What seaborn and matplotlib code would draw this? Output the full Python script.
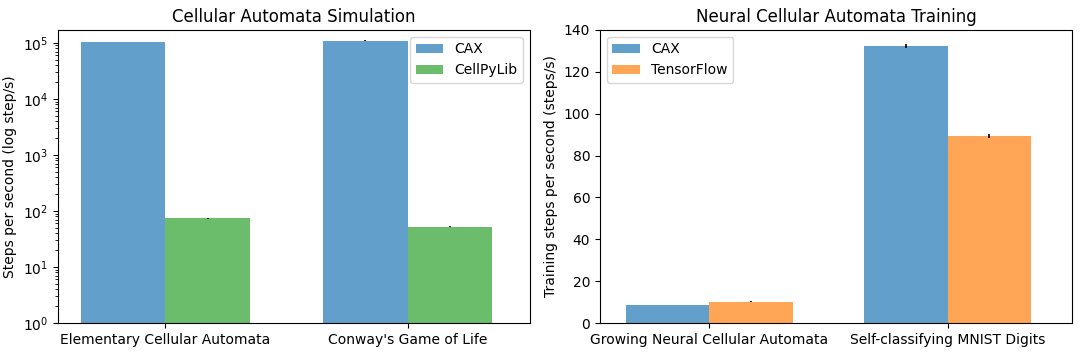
import pandas as pd
import seaborn as sns
import matplotlib
matplotlib.use("Agg")
import matplotlib.pyplot as plt

# classic CA simulation benchmark
sim_tasks = ["Elementary Cellular Automata", "Conway's Game of Life"]
sim_libs = ["CAX", "CellPyLib"]
sim_cax = [104000, 110000]
sim_cax_err = [800, 2500]
sim_cellpylib = [74, 52.5]
sim_cellpylib_err = [2.0, 0.6]

# NCA training benchmark
nca_tasks = ["Growing Neural Cellular Automata", "Self-classifying MNIST Digits"]
nca_libs = ["CAX", "TensorFlow"]
nca_cax = [8.6, 132.3]
nca_cax_err = [0.2, 0.8]
nca_tf = [10.2, 89.4]
nca_tf_err = [0.3, 1.0]


def long_df(tasks, libs, a, b, ea, eb):
    rows = []
    for i, t in enumerate(tasks):
        rows.append((t, libs[0], a[i], ea[i]))
        rows.append((t, libs[1], b[i], eb[i]))
    return pd.DataFrame(rows, columns=["task", "lib", "value", "err"])


def draw(ax, df, tasks, libs, colors):
    sns.barplot(data=df, x="task", y="value", hue="lib", order=tasks,
                hue_order=libs, palette=colors, saturation=1, alpha=0.7,
                width=0.7, errorbar=None, legend=False, ax=ax)
    for lib, cont in zip(libs, ax.containers):
        sub = df[df["lib"] == lib].set_index("task")
        xs, ys, es = [], [], []
        for p in cont.patches:
            xc = p.get_x() + p.get_width() / 2
            t = tasks[int(round(xc))]
            xs.append(xc)
            ys.append(sub.loc[t, "value"])
            es.append(sub.loc[t, "err"])
        ax.errorbar(xs, ys, yerr=es, fmt="none", ecolor="black", elinewidth=1.2)
    ax.legend(ax.containers[:2], libs)


sim_df = long_df(sim_tasks, sim_libs, sim_cax, sim_cellpylib, sim_cax_err, sim_cellpylib_err)
nca_df = long_df(nca_tasks, nca_libs, nca_cax, nca_tf, nca_cax_err, nca_tf_err)

fig, (ax1, ax2) = plt.subplots(1, 2, figsize=(10.8, 3.55), dpi=100)
fig.subplots_adjust(left=0.0537, right=0.9926, top=0.9155, bottom=0.09, wspace=0.148)

draw(ax1, sim_df, sim_tasks, sim_libs, ["tab:blue", "tab:green"])
ax1.set_yscale("log")
ax1.set_ylim(1, 1.7e5)
ax1.set_xlim(-0.444, 1.506)
ax1.set_xlabel("")
ax1.set_ylabel("Steps per second (log step/s)")
ax1.set_title("Cellular Automata Simulation")
ax1.legend(ax1.containers[:2], sim_libs, loc="upper right")

draw(ax2, nca_df, nca_tasks, nca_libs, ["tab:blue", "tab:orange"])
ax2.set_ylim(0, 140)
ax2.set_xlim(-0.46, 1.523)
ax2.set_xlabel("")
ax2.set_ylabel("Training steps per second (steps/s)")
ax2.set_title("Neural Cellular Automata Training")
ax2.legend(ax2.containers[:2], nca_libs, loc="upper left")

fig.savefig("out.png", dpi=100)
